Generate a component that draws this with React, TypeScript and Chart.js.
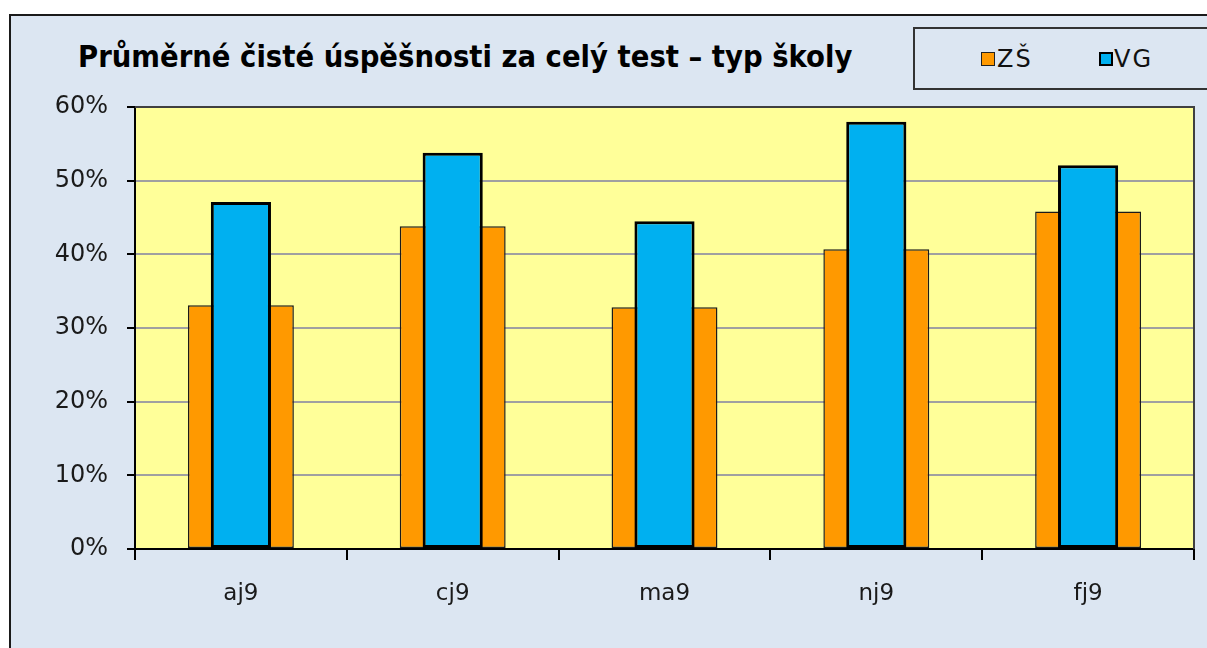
import React, { useEffect, useRef } from "react";
import { Chart, registerables } from "chart.js";

Chart.register(...registerables);

const categories = ["aj9", "cj9", "ma9", "nj9", "fj9"];
const zsValues = [33.1, 43.8, 32.8, 40.7, 45.8];
const vgValues = [47.1, 53.8, 44.5, 58.0, 52.1];
const yTicks = [0, 10, 20, 30, 40, 50, 60];
const seriesNames = ["ZŠ", "VG"];
const titleText = "Průměrné čisté úspěšnosti za celý test – typ školy";

const W = 1207;
const H = 648;

const plotBg = {
  id: "plotBg",
  beforeDraw(chart: any) {
    const { ctx, chartArea: a } = chart;
    ctx.save();
    ctx.fillStyle = "#ffff99";
    ctx.fillRect(a.left, a.top, a.right - a.left, a.bottom - a.top);
    ctx.restore();
  },
  afterDraw(chart: any) {
    const { ctx, chartArea: a } = chart;
    ctx.save();
    ctx.strokeStyle = "#404040";
    ctx.lineWidth = 2;
    ctx.beginPath();
    ctx.moveTo(a.left, a.top);
    ctx.lineTo(a.right, a.top);
    ctx.lineTo(a.right, a.bottom);
    ctx.stroke();
    ctx.restore();
  },
};

export default function App() {
  const canvasRef = useRef<HTMLCanvasElement | null>(null);
  const titleRef = useRef<HTMLSpanElement | null>(null);

  useEffect(() => {
    const t = titleRef.current;
    if (t) {
      t.style.transform = "none";
      const w = t.offsetWidth;
      if (w > 0) t.style.transform = `scaleX(${774 / w})`;
    }
    const canvas = canvasRef.current;
    if (!canvas) return;
    const chart = new Chart(canvas, {
      type: "bar",
      data: {
        labels: categories,
        datasets: [
          {
            label: seriesNames[0],
            data: zsValues,
            backgroundColor: "#ff9900",
            borderColor: "#1a1a1a",
            borderWidth: 1.5,
            borderSkipped: false,
            barPercentage: 0.5,
            categoryPercentage: 1,
            grouped: false,
            order: 1,
          },
          {
            label: seriesNames[1],
            data: vgValues,
            backgroundColor: "#00b0f0",
            borderColor: "#000000",
            borderWidth: 3,
            borderSkipped: false,
            barPercentage: 0.284,
            categoryPercentage: 1,
            grouped: false,
            order: 0,
          },
        ],
      },
      options: {
        animation: false,
        responsive: false,
        devicePixelRatio: 1,
        layout: { padding: { left: 0, right: 13, top: 107, bottom: 0 } },
        plugins: {
          legend: { display: false },
          title: { display: false },
          tooltip: { enabled: false },
        },
        scales: {
          x: {
            offset: true,
            grid: {
              offset: true,
              drawOnChartArea: false,
              drawTicks: true,
              tickLength: 11,
              tickColor: "#000",
              lineWidth: 2,
            },
            border: { display: true, color: "#000", width: 2 },
            ticks: {
              color: "#1a1a1a",
              font: { family: "DejaVu Sans", size: 23 },
              padding: 20,
            },
            afterFit(scale: any) {
              scale.height = 99;
            },
          },
          y: {
            min: 0,
            max: 60,
            afterBuildTicks(scale: any) {
              scale.ticks = yTicks.map((v) => ({ value: v }));
            },
            grid: {
              color: "#a0a0a0",
              lineWidth: 2,
              drawTicks: true,
              tickLength: 8,
              tickColor: "#000",
            },
            border: { display: true, color: "#000", width: 2 },
            ticks: {
              color: "#1a1a1a",
              font: { family: "DejaVu Sans", size: 24 },
              padding: 19,
              callback: (v: any) => `${v}%`,
            },
            afterFit(scale: any) {
              scale.width = 135;
            },
          },
        },
      },
      plugins: [plotBg],
    });
    return () => chart.destroy();
  }, []);

  return (
    <div
      style={{
        position: "fixed",
        left: 0,
        top: 0,
        width: W,
        height: H,
        background: "#ffffff",
        overflow: "hidden",
      }}
    >
      <div
        style={{
          position: "absolute",
          left: 9,
          top: 14,
          width: W,
          height: H,
          borderLeft: "2px solid #1a1a1a",
          borderTop: "2px solid #1a1a1a",
          background: "#dce6f2",
        }}
      />
      <span
        ref={titleRef}
        style={{
          position: "absolute",
          left: 78,
          top: 42,
          fontFamily: "'DejaVu Sans Condensed', 'DejaVu Sans'",
          fontWeight: "bold",
          fontSize: 30,
          lineHeight: "30px",
          whiteSpace: "nowrap",
          color: "#000",
          transformOrigin: "0 0",
        }}
      >
        {titleText}
      </span>
      <div
        style={{
          position: "absolute",
          left: 913,
          top: 27,
          width: 400,
          height: 63,
          boxSizing: "border-box",
          border: "2px solid #333",
        }}
      />
      <div
        style={{
          position: "absolute",
          left: 981,
          top: 52,
          width: 14,
          height: 14,
          boxSizing: "border-box",
          border: "1.5px solid #222",
          background: "#ff9900",
        }}
      />
      <span
        style={{
          position: "absolute",
          left: 997,
          top: 47,
          fontFamily: "'DejaVu Sans'",
          fontSize: 24,
          lineHeight: "24px",
          letterSpacing: 2,
          color: "#111",
          whiteSpace: "nowrap",
        }}
      >
        {seriesNames[0]}
      </span>
      <div
        style={{
          position: "absolute",
          left: 1099,
          top: 52,
          width: 14,
          height: 14,
          boxSizing: "border-box",
          border: "2.5px solid #000",
          background: "#00b0f0",
        }}
      />
      <span
        style={{
          position: "absolute",
          left: 1114,
          top: 47,
          fontFamily: "'DejaVu Sans'",
          fontSize: 24,
          lineHeight: "24px",
          letterSpacing: 2,
          color: "#111",
          whiteSpace: "nowrap",
        }}
      >
        {seriesNames[1]}
      </span>
      <canvas
        ref={canvasRef}
        width={W}
        height={H}
        style={{ position: "absolute", left: 0, top: 0, width: W, height: H }}
      />
    </div>
  );
}
